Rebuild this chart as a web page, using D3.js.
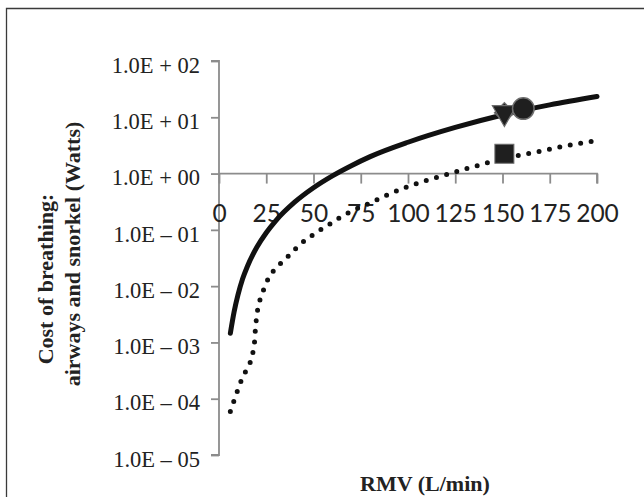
<!DOCTYPE html>
<html>
<head>
<meta charset="utf-8">
<script src="https://cdn.jsdelivr.net/npm/d3@7"></script>
<style>
  html, body { margin: 0; padding: 0; background: #fff; }
  svg { display: block; }
</style>
</head>
<body>
<svg id="chart" width="644" height="497"></svg>
<script>
// ---- data ----
const xTicks = [0, 25, 50, 75, 100, 125, 150, 175, 200];
const yTicks = [1e2, 1e1, 1e0, 1e-1, 1e-2, 1e-3, 1e-4, 1e-5];
const yTickLabels = ["1.0E + 02", "1.0E + 01", "1.0E + 00", "1.0E \u2013 01",
                     "1.0E \u2013 02", "1.0E \u2013 03", "1.0E \u2013 04", "1.0E \u2013 05"];

// solid curve: airways + snorkel
const solidRMV  = [6, 8, 10, 12.5, 15, 20, 25, 30, 40, 50, 60, 70, 80, 100, 125, 150, 175, 200];
const solidCost = [0.00145, 0.0035, 0.0069, 0.0135, 0.0224, 0.049, 0.089, 0.145, 0.31, 0.56,
                   0.91, 1.38, 2.0, 3.6, 6.6, 11.0, 16.6, 23.4];

// dotted curve
const dotRMV  = [6, 8, 10, 12, 14, 16.5, 18, 18.8, 19.2, 19.7, 20.5, 22, 24, 26, 29, 33, 37, 41, 45,
                 50, 55, 60, 64, 70, 80, 90, 100, 110, 120, 130, 140, 150, 160, 170, 180, 190, 200];
const dotCost = [5.9e-5, 9.3e-5, 1.45e-4, 2.2e-4, 3.0e-4, 4.4e-4, 6.8e-4, 1.02e-3, 1.62e-3, 2.5e-3,
                 3.9e-3, 6.2e-3, 9.3e-3, 0.0135, 0.019, 0.026, 0.035, 0.048, 0.063,
                 0.083, 0.107, 0.135, 0.166, 0.214, 0.30, 0.43, 0.59, 0.76, 0.95, 1.2, 1.48,
                 1.86, 2.14, 2.5, 2.95, 3.4, 3.85];

// single measured points
const triPoint    = { rmv: 151, cost: 12.1 };   // triangle + diamond
const circlePoint = { rmv: 161, cost: 14.3 };
const squarePoint = { rmv: 151, cost: 2.25 };

// ---- layout ----
const svg = d3.select("#chart");
const x = d3.scaleLinear().domain([0, 200]).range([219, 597]);
const y = d3.scaleLog().domain([1e-5, 1e2]).range([455, 61]);

// chart area frame (top and left edges visible)
svg.append("path")
  .attr("d", "M6.5,497 L6.5,8.5 L644,8.5")
  .attr("fill", "none").attr("stroke", "#3a3a3a").attr("stroke-width", 1.3);

const axisColor = "#8c8c8c";

// y axis
const yAxis = svg.append("g")
  .attr("transform", `translate(${x(0)},0)`)
  .call(d3.axisLeft(y).tickValues(yTicks)
        .tickFormat((d, i) => yTickLabels[i]).tickSize(8).tickPadding(11));
yAxis.select(".domain").attr("stroke", axisColor).attr("stroke-width", 1.8)
  .attr("d", `M0,${y(1e2)}H-8H0V${y(1e-5)}H-8`);
yAxis.selectAll(".tick line").attr("stroke", axisColor).attr("stroke-width", 1.8);
yAxis.selectAll(".tick text")
  .attr("dy", "0.5em")
  .attr("fill", "#222")
  .style("font-family", "'Liberation Serif', 'Times New Roman', serif")
  .style("font-size", "22.5px");

// x axis at y = 1
const xAxis = svg.append("g")
  .attr("transform", `translate(0,${y(1)})`)
  .call(d3.axisBottom(x).tickValues(xTicks).tickSize(10).tickPadding(0));
xAxis.select(".domain").attr("stroke", axisColor).attr("stroke-width", 1.8)
  .attr("d", `M${x(0)},0H${x(200)}V10`);
xAxis.selectAll(".tick line").attr("stroke", axisColor).attr("stroke-width", 1.8);
xAxis.selectAll(".tick text")
  .attr("y", 48.5).attr("dy", 0)
  .attr("fill", "#222")
  .style("font-family", "Lato, 'Open Sans', sans-serif")
  .style("font-size", "24.5px");

// curves
const line = d3.line()
  .x(d => x(d[0])).y(d => y(d[1]))
  .curve(d3.curveMonotoneX);

svg.append("path")
  .datum(dotRMV.map((v, i) => [v, dotCost[i]]))
  .attr("d", line)
  .attr("fill", "none").attr("stroke", "#111")
  .attr("stroke-width", 5).attr("stroke-linecap", "round")
  .attr("stroke-dasharray", "0 10.6");

svg.append("path")
  .datum(solidRMV.map((v, i) => [v, solidCost[i]]))
  .attr("d", line)
  .attr("fill", "none").attr("stroke", "#111")
  .attr("stroke-width", 5).attr("stroke-linecap", "round");

// markers
const mFill = "#1f1f1f", mStroke = "#6e6e6e";
svg.append("path")
  .attr("d", d3.symbol(d3.symbolSquare, 200)())
  .attr("transform", `translate(${x(triPoint.rmv)},${y(triPoint.cost)}) rotate(45)`)
  .attr("fill", mFill).attr("stroke", mStroke).attr("stroke-width", 1.2);
svg.append("path")
  .attr("d", d3.symbol(d3.symbolTriangle, 250)())
  .attr("transform", `translate(${x(triPoint.rmv)},${y(triPoint.cost)}) rotate(180)`)
  .attr("fill", mFill).attr("stroke", mStroke).attr("stroke-width", 1.2);
svg.append("circle")
  .attr("cx", x(circlePoint.rmv)).attr("cy", y(circlePoint.cost)).attr("r", 10.8)
  .attr("fill", mFill).attr("stroke", mStroke).attr("stroke-width", 1.5);
svg.append("rect")
  .attr("x", x(squarePoint.rmv) - 9.5).attr("y", y(squarePoint.cost) - 9.5)
  .attr("width", 19).attr("height", 19)
  .attr("fill", mFill).attr("stroke", mStroke).attr("stroke-width", 1);

// axis titles
const serifBold = "'Liberation Serif', 'Times New Roman', serif";
svg.append("text")
  .attr("transform", "translate(53,279) rotate(-90)")
  .attr("text-anchor", "middle")
  .attr("fill", "#222")
  .style("font-family", serifBold).style("font-weight", "bold").style("font-size", "22px")
  .text("Cost of breathing:");
svg.append("text")
  .attr("transform", "translate(80,254) rotate(-90)")
  .attr("text-anchor", "middle")
  .attr("fill", "#222")
  .style("font-family", serifBold).style("font-weight", "bold").style("font-size", "22px")
  .text("airways and snorkel (Watts)");
svg.append("text")
  .attr("x", 425).attr("y", 491)
  .attr("text-anchor", "middle")
  .attr("fill", "#222")
  .style("font-family", serifBold).style("font-weight", "bold").style("font-size", "22px")
  .text("RMV (L/min)");
</script>
</body>
</html>
